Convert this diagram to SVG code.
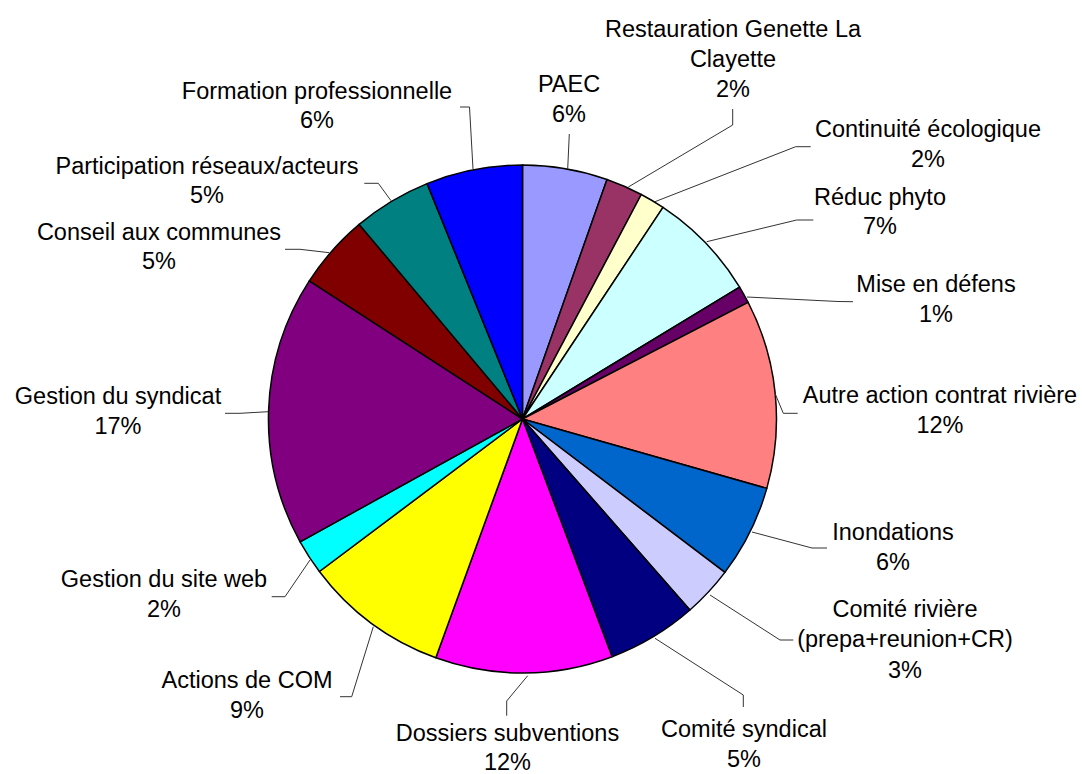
<svg xmlns="http://www.w3.org/2000/svg" width="1082" height="774" viewBox="0 0 1082 774">
<style>
.s{stroke:#000;stroke-width:1.5;stroke-linejoin:round}
.t{font-family:"Liberation Sans",Arial,sans-serif;font-size:23.5px;fill:#000;text-anchor:middle}
.l{fill:none;stroke:#333;stroke-width:1}
</style>
<rect width="1082" height="774" fill="#fff"/>
<g id="slices">
<g id="paec"><path class="s" fill="#9999FF" d="M522.5,419 L522.5,165 A254,254 0 0 1 607.0,179.5 Z"/></g>
<g id="restauration"><path class="s" fill="#993366" d="M522.5,419 L607.0,179.5 A254,254 0 0 1 641.3,194.5 Z"/></g>
<g id="continuite"><path class="s" fill="#FFFFCC" d="M522.5,419 L641.3,194.5 A254,254 0 0 1 663.0,207.4 Z"/></g>
<g id="reduc"><path class="s" fill="#CCFFFF" d="M522.5,419 L663.0,207.4 A254,254 0 0 1 739.6,287.1 Z"/></g>
<g id="mise"><path class="s" fill="#660066" d="M522.5,419 L739.6,287.1 A254,254 0 0 1 748.1,302.3 Z"/></g>
<g id="autre"><path class="s" fill="#FF8080" d="M522.5,419 L748.1,302.3 A254,254 0 0 1 766.8,488.4 Z"/></g>
<g id="inondations"><path class="s" fill="#0066CC" d="M522.5,419 L766.8,488.4 A254,254 0 0 1 724.9,572.4 Z"/></g>
<g id="comite-riviere"><path class="s" fill="#CCCCFF" d="M522.5,419 L724.9,572.4 A254,254 0 0 1 689.9,610.0 Z"/></g>
<g id="comite-syndical"><path class="s" fill="#000080" d="M522.5,419 L689.9,610.0 A254,254 0 0 1 612.1,656.7 Z"/></g>
<g id="dossiers"><path class="s" fill="#FF00FF" d="M522.5,419 L612.1,656.7 A254,254 0 0 1 435.8,657.8 Z"/></g>
<g id="com"><path class="s" fill="#FFFF00" d="M522.5,419 L435.8,657.8 A254,254 0 0 1 319.4,571.5 Z"/></g>
<g id="siteweb"><path class="s" fill="#00FFFF" d="M522.5,419 L319.4,571.5 A254,254 0 0 1 300.1,541.8 Z"/></g>
<g id="gestion"><path class="s" fill="#800080" d="M522.5,419 L300.1,541.8 A254,254 0 0 1 309.3,280.9 Z"/></g>
<g id="conseil"><path class="s" fill="#800000" d="M522.5,419 L309.3,280.9 A254,254 0 0 1 359.2,224.4 Z"/></g>
<g id="participation"><path class="s" fill="#008080" d="M522.5,419 L359.2,224.4 A254,254 0 0 1 427.1,183.6 Z"/></g>
<g id="formation"><path class="s" fill="#0000FF" d="M522.5,419 L427.1,183.6 A254,254 0 0 1 522.5,165 Z"/></g>
</g>
<g id="connectors">
<polyline class="l" points="473,169 469.5,107 460,107"/>
<polyline class="l" points="567.7,169 569.3,134"/>
<polyline class="l" points="628.3,187 732.7,125 732.7,109"/>
<polyline class="l" points="655,201.7 795.7,146.7 810.7,146.7"/>
<polyline class="l" points="706.7,241.7 796.7,220 813.3,220"/>
<polyline class="l" points="747,297 838,301.5 853,301.7"/>
<polyline class="l" points="775,393.3 783.3,413.3 797.7,413.3"/>
<polyline class="l" points="752,532 812,548 827,548"/>
<polyline class="l" points="710,595 780,640 793.3,640"/>
<polyline class="l" points="655,638.3 743.3,695 743.3,707"/>
<polyline class="l" points="527.7,675.7 506.7,701 506.7,715.7"/>
<polyline class="l" points="373.3,626.7 351.7,696.7 340,696.7"/>
<polyline class="l" points="310,560 285,596.7 271.7,596.7"/>
<polyline class="l" points="268.3,411.7 240,413.3 225,413.3"/>
<polyline class="l" points="329.3,252.7 300,249.3 285,249.3"/>
<polyline class="l" points="391,200.7 378.3,183.3 364.3,183.3"/>
</g>
<g id="labels">
<g id="lbl-formation"><text class="t" x="317" y="98.5">Formation professionnelle</text><text class="t" x="317" y="128">6%</text></g>
<g id="lbl-paec"><text class="t" x="569" y="92">PAEC</text><text class="t" x="569" y="121.5">6%</text></g>
<g id="lbl-restauration"><text class="t" x="733" y="37">Restauration Genette La</text><text class="t" x="733" y="66.5">Clayette</text><text class="t" x="733" y="96.5">2%</text></g>
<g id="lbl-continuite"><text class="t" x="928" y="137">Continuité écologique</text><text class="t" x="928" y="166.5">2%</text></g>
<g id="lbl-reduc"><text class="t" x="880" y="205">Réduc phyto</text><text class="t" x="880" y="234">7%</text></g>
<g id="lbl-mise"><text class="t" x="936" y="292">Mise en défens</text><text class="t" x="936" y="322">1%</text></g>
<g id="lbl-autre"><text class="t" x="940" y="403">Autre action contrat rivière</text><text class="t" x="940" y="433">12%</text></g>
<g id="lbl-inondations"><text class="t" x="893" y="540">Inondations</text><text class="t" x="893" y="570">6%</text></g>
<g id="lbl-comite-riviere"><text class="t" x="905" y="616.5">Comité rivière</text><text class="t" x="905" y="647">(prepa+reunion+CR)</text><text class="t" x="905" y="677.5">3%</text></g>
<g id="lbl-comite-syndical"><text class="t" x="744" y="736.5">Comité syndical</text><text class="t" x="744" y="767">5%</text></g>
<g id="lbl-dossiers"><text class="t" x="507.5" y="741">Dossiers subventions</text><text class="t" x="507.5" y="769.5">12%</text></g>
<g id="lbl-com"><text class="t" x="247" y="688">Actions de COM</text><text class="t" x="247" y="718">9%</text></g>
<g id="lbl-siteweb"><text class="t" x="164" y="587">Gestion du site web</text><text class="t" x="164" y="617">2%</text></g>
<g id="lbl-gestion"><text class="t" x="118" y="403.5">Gestion du syndicat</text><text class="t" x="118" y="433.5">17%</text></g>
<g id="lbl-conseil"><text class="t" x="159" y="239.5">Conseil aux communes</text><text class="t" x="159" y="269">5%</text></g>
<g id="lbl-participation"><text class="t" x="207" y="173.5">Participation réseaux/acteurs</text><text class="t" x="207" y="203">5%</text></g>
</g>
</svg>
